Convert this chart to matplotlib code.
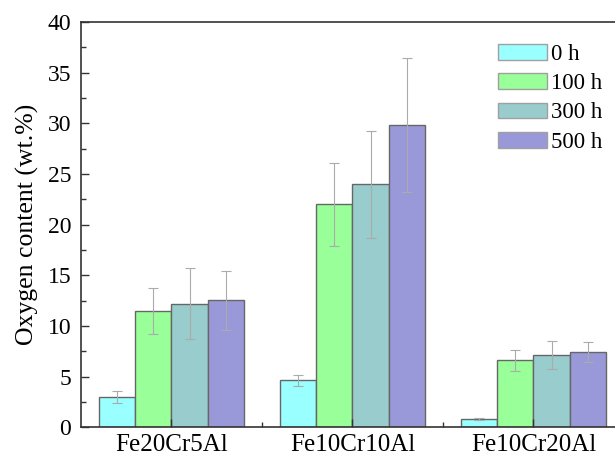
"""Oxygen content of three FeCrAl alloys after different exposure times."""
import numpy as np
import matplotlib
matplotlib.use("Agg")
import matplotlib.pyplot as plt
from matplotlib.ticker import MultipleLocator

alloys = ["Fe20Cr5Al", "Fe10Cr10Al", "Fe10Cr20Al"]
times = ["0 h", "100 h", "300 h", "500 h"]

# oxygen content (wt.%) per exposure time, one value per alloy
oxygen = [
    [3.0, 4.62, 0.83],
    [11.5, 22.0, 6.63],
    [12.2, 23.97, 7.13],
    [12.55, 29.85, 7.43],
]
errors = [
    [0.6, 0.54, 0.08],
    [2.25, 4.13, 1.03],
    [3.5, 5.3, 1.42],
    [2.9, 6.6, 0.95],
]
colors = ["#99FFFF", "#99FF99", "#99CCCC", "#9999D9"]

plt.rcParams["font.family"] = ["Liberation Serif", "DejaVu Serif"]
plt.rcParams["font.size"] = 17

fig = plt.figure(figsize=(6.15, 4.57), dpi=100)
ax = fig.add_axes([0.1317, 0.065, 0.8829, 0.8869])

x = np.arange(len(alloys))
width = 0.2
for i, label in enumerate(times):
    ax.bar(x + (i - 1.5) * width, oxygen[i], width, color=colors[i],
           edgecolor="#666666", linewidth=1.0, label=label,
           yerr=errors[i], ecolor="#ABABAB",
           error_kw=dict(elinewidth=0.8, capsize=3.5, capthick=0.8))

ax.set_xlim(-0.5, 2.5)
ax.set_ylim(0, 40)
ax.set_xticks(x)
ax.set_xticklabels(alloys, fontsize=18)
ax.set_xticks([0.5, 1.5], minor=True)
ax.yaxis.set_major_locator(MultipleLocator(5))
ax.yaxis.set_minor_locator(MultipleLocator(2.5))
ax.tick_params(which="major", direction="in", length=5.8, width=1.0,
               color="#333333")
ax.tick_params(which="minor", direction="in", length=3.4, width=1.0,
               color="#333333")
ax.tick_params(axis="y", which="both", pad=7)
ax.tick_params(axis="x", which="both", pad=5)
for side in ["left", "bottom", "top", "right"]:
    ax.spines[side].set_color("#333333")
    ax.spines[side].set_linewidth(1.2)
ax.set_ylabel("Oxygen content (wt.%)", fontsize=18.5, labelpad=6)

leg = ax.legend(loc="upper left", bbox_to_anchor=(498 / 615, 1 - 44 / 457),
                bbox_transform=fig.transFigure, frameon=False,
                handlelength=2.12, handleheight=0.68, handletextpad=0.2,
                labelspacing=0.36, borderpad=0, borderaxespad=0,
                fontsize=16.5)
for patch in leg.get_patches():
    patch.set_edgecolor("#A0A0A0")

fig.savefig("out.png", dpi=100)
